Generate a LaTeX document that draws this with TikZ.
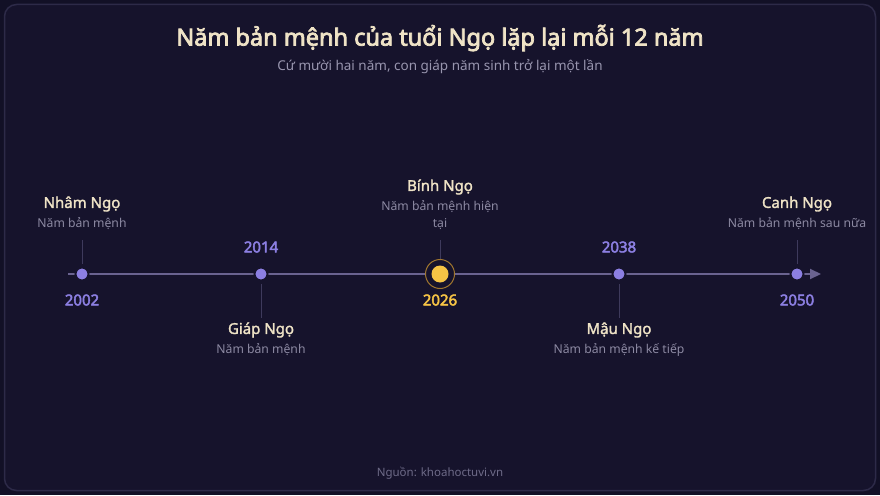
\documentclass[tikz,border=0pt]{standalone}
\usepackage{fontspec}
\setmainfont{Noto Sans}
\newfontfamily\titlefont{Noto Sans}[FakeBold=3.2]
\newfontfamily\semifont{Noto Sans}[FakeBold=1.8]
\newfontfamily\yearfont{Noto Sans}[FakeBold=3]
\usetikzlibrary{arrows.meta}
\definecolor{bgout}{HTML}{121026}
\definecolor{bgcard}{HTML}{16132C}
\definecolor{cardline}{HTML}{2D2A48}
\definecolor{cream}{HTML}{EFE3C6}
\definecolor{subgray}{HTML}{9895AE}
\definecolor{lblgray}{HTML}{8C89A2}
\definecolor{footgray}{HTML}{6E6B88}
\definecolor{axis}{HTML}{6A6390}
\definecolor{tick}{HTML}{3E3A5C}
\definecolor{dotpurple}{HTML}{8C7FE2}
\definecolor{gold}{HTML}{F6C445}
\definecolor{goldring}{HTML}{A0762E}
\tikzset{
  yearlbl/.style={font=\yearfont\fontsize{15}{18}\selectfont, text=dotpurple, inner sep=0pt},
  namelbl/.style={font=\semifont\fontsize{15}{18}\selectfont, text=cream, inner sep=0pt},
  desclbl/.style={font=\fontsize{12.2}{17}\selectfont, text=lblgray, inner sep=0pt, align=center},
  dot/.style={circle, fill=dotpurple, draw=bgcard, line width=2pt, minimum size=13pt, inner sep=0pt},
  tickln/.style={draw=tick, line width=1pt},
}
\begin{document}
\begin{tikzpicture}[x=1pt,y=-1pt]
\useasboundingbox (0,0) rectangle (880,495);
\fill[bgout] (0,0) rectangle (880,495);
\draw[cardline, fill=bgcard, line width=1.5pt, rounded corners=12pt] (4.5,4.5) rectangle (875.5,490.5);

\node[font=\titlefont\fontsize{23.5}{28}\selectfont, text=cream] (title) at (440,38) {Năm bản mệnh của tuổi Ngọ lặp lại mỗi 12 năm};
\node[font=\fontsize{13.5}{16}\selectfont, text=subgray] (subtitle) at (440,67) {Cứ mười hai năm, con giáp năm sinh trở lại một lần};

% axis
\coordinate (start) at (68,274);
\coordinate (end) at (821,274);
\draw[axis, line width=2pt, -{Triangle[length=11pt,width=10pt]}] (start) -- (end);

% ticks
\coordinate (t1a) at (82,240); \coordinate (t1b) at (82,264);
\coordinate (t2a) at (261,284); \coordinate (t2b) at (261,318);
\coordinate (t3a) at (440,240); \coordinate (t3b) at (440,262);
\coordinate (t4a) at (619,284); \coordinate (t4b) at (619,318);
\coordinate (t5a) at (797,240); \coordinate (t5b) at (797,264);
\draw[tickln] (t1a) -- (t1b);
\draw[tickln] (t2a) -- (t2b);
\draw[tickln] (t3a) -- (t3b);
\draw[tickln] (t4a) -- (t4b);
\draw[tickln] (t5a) -- (t5b);

% dots
\node[dot] (d1) at (82,274) {};
\node[dot] (d2) at (261,274) {};
\node[circle, draw=goldring, line width=1pt, minimum size=29pt, inner sep=0pt, fill=bgcard] (ring) at (440,274) {};
\node[circle, fill=gold, minimum size=17pt, inner sep=0pt] (d3) at (440,274) {};
\node[dot] (d4) at (619,274) {};
\node[dot] (d5) at (797,274) {};

% years
\node[yearlbl] (y1) at (82,300) {2002};
\node[yearlbl] (y2) at (261,247) {2014};
\node[yearlbl, text=gold] (y3) at (440,300) {2026};
\node[yearlbl] (y4) at (619,247) {2038};
\node[yearlbl] (y5) at (797,300) {2050};

% names
\node[namelbl] (n1) at (82,204) {Nhâm Ngọ};
\node[desclbl] (s1) at (82,224) {Năm bản mệnh};
\node[namelbl] (n2) at (261,330) {Giáp Ngọ};
\node[desclbl] (s2) at (261,350) {Năm bản mệnh};
\node[namelbl] (n3) at (440,187) {Bính Ngọ};
\node[desclbl] (s3) at (440,215.5) {Năm bản mệnh hiện\\tại};
\node[namelbl] (n4) at (619,330) {Mậu Ngọ};
\node[desclbl] (s4) at (619,350) {Năm bản mệnh kế tiếp};
\node[namelbl] (n5) at (797,204) {Canh Ngọ};
\node[desclbl] (s5) at (797,224) {Năm bản mệnh sau nữa};

\node[font=\fontsize{11.5}{14}\selectfont, text=footgray] (src) at (440,473) {Nguồn: khoahoctuvi.vn};
\end{tikzpicture}
\end{document}
